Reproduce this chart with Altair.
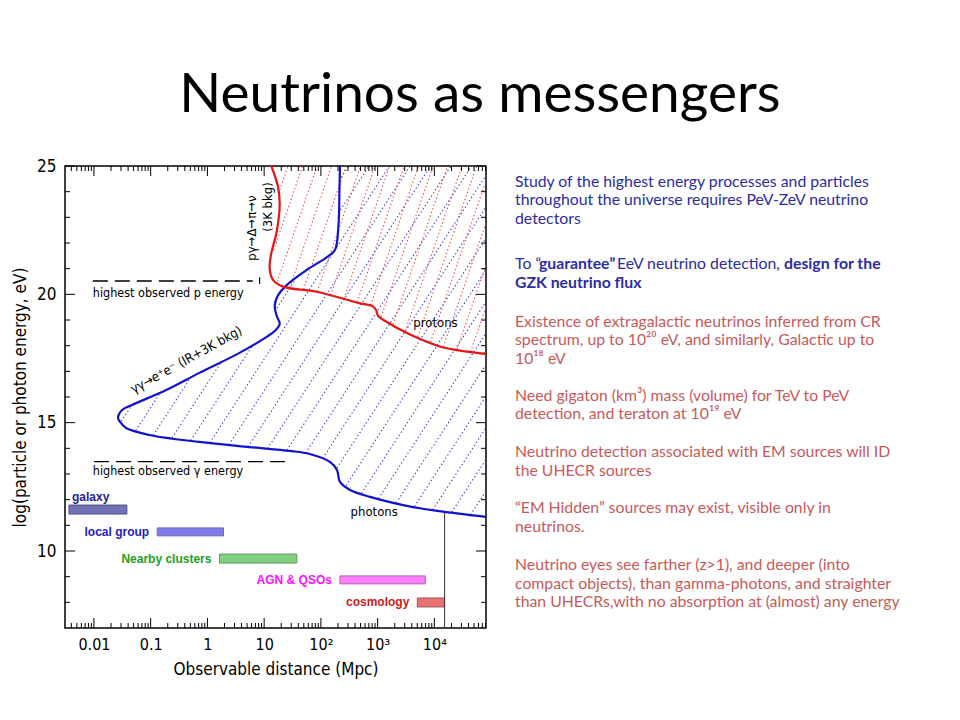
import altair as alt
import numpy as np
import pandas as pd

# ---------------- data ----------------
TITLE = "Neutrinos as messengers"
X_TITLE = "Observable distance (Mpc)"
Y_TITLE = "log(particle or photon energy, eV)"

x_tick_values = [-2, -1, 0, 1, 2, 3, 4]          # log10(distance / Mpc)
x_tick_labels = ["0.01", "0.1", "1", "10", "10²", "10³", "10⁴"]
y_tick_values = [10, 15, 20, 25]
x_domain = [-2.51, 4.91]
y_domain = [7, 25]

# photon horizon (blue curve), log10(Mpc) vs log10(E/eV)
photon_lx = [2.336, 2.327, 2.310, 2.248, 2.106, 1.752, 1.398, 1.239, 1.186, 1.221,
             1.274, 1.186, 1.044, 0.566, -0.142, -0.726, -1.327, -1.504, -1.575, -1.540,
             -1.434, -1.027, -0.142, 0.743, 1.451, 1.805, 2.159, 2.283, 2.336, 2.513,
             2.867, 3.451, 4.053, 4.91]
photon_E = [25.0, 24.07, 22.70, 21.73, 21.45, 20.95, 20.36, 19.94, 19.55, 19.16,
            18.85, 18.57, 18.34, 17.72, 16.94, 16.27, 15.69, 15.49, 15.18, 15.03,
            14.79, 14.52, 14.25, 14.05, 13.90, 13.78, 13.47, 13.16, 12.69, 12.38,
            12.11, 11.79, 11.56, 11.33]

# proton horizon (red curve)
proton_lx = [1.127, 1.244, 1.274, 1.216, 1.127, 1.097, 1.156, 1.333, 1.924, 2.690,
             2.903, 2.973, 3.009, 3.133, 3.517, 4.106, 4.579, 4.91]
proton_E = [25.0, 24.19, 23.48, 22.39, 21.61, 21.03, 20.56, 20.30, 20.10, 19.65,
            19.55, 19.39, 19.16, 18.96, 18.49, 17.96, 17.77, 17.68]

# source distance ranges
src_names = ["galaxy", "local group", "Nearby clusters", "AGN & QSOs", "cosmology"]
src_lx_lo = [-2.44, -0.885, 0.212, 2.336, 3.70]
src_lx_hi = [-1.42, 0.283, 1.575, 3.84, 4.18]
src_E_lo = [11.44, 10.59, 9.53, 8.72, 7.82]
src_E_hi = [11.79, 10.90, 9.88, 9.03, 8.17]

horizon_lx = [4.18]
horizon_E = [7.0, 11.48]

p_max_E = [20.52]
p_max_lx = [-2.02, 0.80]
p_end_lx = [0.92]
p_end_E = [20.40, 20.67]
g_max_E = [13.48]
g_max_lx = [-2.0, 1.40]

annot_text = ["photons", "protons", "γγ→e⁺e⁻ (IR+3K bkg)", "pγ→Δ→π→ν", "(3K bkg)"]
annot_lx = [2.94, 4.02, -0.37, 0.78, 1.06]
annot_E = [11.52, 18.88, 17.44, 22.58, 23.40]
annot_angle = [0, 0, 331, 270, 270]

level_text = ["highest observed p energy", "highest observed γ energy"]
level_lx = [-2.02, -2.02]
level_E = [19.90, 12.96]

para_blue_1 = ["Study of the highest energy processes and particles",
               "throughout the universe requires PeV-ZeV neutrino",
               "detectors"]
para_blue_2_runs = [("To “", False), ("guarantee”", True),
                    ("EeV neutrino detection,", False), ("design for the", True)]
para_blue_2_line2 = "GZK neutrino flux"
para_red = [
    ["Existence of extragalactic neutrinos inferred from CR",
     "spectrum, up to 10²⁰ eV, and similarly, Galactic up to",
     "10¹⁸ eV"],
    ["Need gigaton (km³) mass (volume) for TeV to PeV",
     "detection, and teraton at 10¹⁹ eV"],
    ["Neutrino detection associated with EM sources will ID",
     "the UHECR sources"],
    ["“EM Hidden” sources may exist, visible only in",
     "neutrinos."],
    ["Neutrino eyes see farther (z>1), and deeper (into",
     "compact objects), than gamma-photons, and straighter",
     "than UHECRs,with no absorption at (almost) any energy"],
]

# ---------------- style ----------------
W, H = 421, 462
sx = W / (x_domain[1] - x_domain[0])
sy = H / (y_domain[1] - y_domain[0])
AXF = "DejaVu Sans Condensed, DejaVu Sans"
SLF = "Lato"
LBF = "Liberation Sans Narrow, Liberation Sans"
BLUE = "#1212cc"
RED = "#e61414"
TXT_BLUE = "#2c2ca4"
TXT_RED = "#c65a5a"
src_fill = ["#7272b6", "#7d7df0", "#80d080", "#ff80ff", "#e87272"]
src_edge = ["#505088", "#6a6aa8", "#5f9a5f", "#b060b0", "#a05a5a"]
src_text = ["#1c1c9c", "#1c1cc0", "#22a022", "#ff10ff", "#d01818"]

xs = alt.Scale(domain=x_domain, nice=False, zero=False)
ys = alt.Scale(domain=y_domain, nice=False, zero=False)

label_expr = " : ".join(f"datum.value == {v} ? '{l}'" for v, l in zip(x_tick_values, x_tick_labels)) + " : ''"
x_axis = alt.Axis(values=x_tick_values, labelExpr=label_expr, ticks=False, tickSize=0, domain=False,
                  grid=False, labelFont=AXF, labelFontSize=16, labelColor="black", labelPadding=8,
                  labelFlush=False, title=X_TITLE, titleFont=AXF, titleFontSize=17,
                  titleFontWeight="normal", titleColor="black", titlePadding=9)
y_axis = alt.Axis(values=y_tick_values, ticks=False, tickSize=0, domain=False, grid=False,
                  labelFont=AXF, labelFontSize=17, labelColor="black", labelPadding=9,
                  labelFlush=False, title=Y_TITLE, titleFont=AXF, titleFontSize=17,
                  titleFontWeight="normal", titleColor="black", titlePadding=7)


def ex(field="lx"):
    return alt.X(f"{field}:Q", scale=xs, axis=x_axis, title=X_TITLE)


def ey(field="E"):
    return alt.Y(f"{field}:Q", scale=ys, axis=y_axis, title=Y_TITLE)


# ---------------- curves ----------------
photon_df = pd.DataFrame({"lx": photon_lx, "E": photon_E, "i": range(len(photon_lx))})
proton_df = pd.DataFrame({"lx": proton_lx, "E": proton_E, "i": range(len(proton_lx))})


def hatch_segments(curve_lx, curve_E, angle_deg, spacing, phase):
    cx = np.asarray(curve_lx, float)[::-1]
    cy = np.asarray(curve_E, float)[::-1]
    step = 0.25
    P = np.arange(0.0, H + step / 2, step)
    E = y_domain[0] + P / sy
    bound = np.full_like(P, np.inf)
    ok = (E >= cy.min()) & (E <= cy.max() + 1e-9)
    bound[ok] = (np.interp(E[ok], cy, cx) - x_domain[0]) * sx
    cot = 1.0 / np.tan(np.radians(angle_deg))
    rows, seg = [], 0
    k0 = int(np.floor((-H * cot - phase) / spacing)) - 1
    k1 = int(np.ceil((W - phase) / spacing)) + 1
    for k in range(k0, k1 + 1):
        X = phase + k * spacing + P * cot
        inside = (X >= 0) & (X <= W) & (X > bound + 1.5)
        d = np.diff(np.concatenate([[0], inside.astype(int), [0]]))
        starts = np.flatnonzero(d == 1)
        ends = np.flatnonzero(d == -1) - 1
        for a, b in zip(starts, ends):
            if b - a < 6:
                continue
            for j, idx in enumerate((a, b)):
                rows.append({"seg": seg, "i": j, "lx": x_domain[0] + X[idx] / sx, "E": E[idx]})
            seg += 1
    return pd.DataFrame(rows)


hb = hatch_segments(photon_lx, photon_E, 57, 20.5, 4.0)
hr = hatch_segments(proton_lx, proton_E, 71, 14.5, 6.0)

hatch_blue = alt.Chart(hb).mark_line(strokeDash=[1.4, 2.4], strokeWidth=1.1, color="#3c3cd8").encode(
    x=ex(), y=ey(), detail="seg:N", order="i:Q")
hatch_red = alt.Chart(hr).mark_line(strokeDash=[1.4, 2.4], strokeWidth=1.1, color="#e84848").encode(
    x=ex(), y=ey(), detail="seg:N", order="i:Q")

photon_line = alt.Chart(photon_df).mark_line(color=BLUE, strokeWidth=2.2, interpolate="catmull-rom").encode(
    x=ex(), y=ey(), order="i:Q")
proton_line = alt.Chart(proton_df).mark_line(color=RED, strokeWidth=2.2, interpolate="catmull-rom").encode(
    x=ex(), y=ey(), order="i:Q")

# ---------------- sources ----------------
src_df = pd.DataFrame({"name": src_names, "lx": src_lx_lo, "lx2": src_lx_hi, "E": src_E_lo,
                       "E2": src_E_hi, "fill": src_fill, "edge": src_edge, "tcol": src_text})
bars = alt.Chart(src_df).mark_rect(strokeWidth=1).encode(
    x=ex(), x2="lx2:Q", y=ey(), y2="E2:Q",
    color=alt.Color("fill:N", scale=None), stroke=alt.Stroke("edge:N", scale=None))
src_labels = alt.Chart(src_df.iloc[1:]).transform_calculate(Em="(datum.E + datum.E2) / 2").mark_text(
    align="right", baseline="middle", dx=-8, font=LBF, fontSize=12, fontWeight="bold").encode(
    x=ex(), y=ey("Em"), text="name:N", color=alt.Color("tcol:N", scale=None))
gal_label = alt.Chart(src_df.iloc[:1]).mark_text(
    align="left", baseline="alphabetic", dx=3, dy=-4, font=LBF, fontSize=12, fontWeight="bold").encode(
    x=ex(), y=ey("E2"), text="name:N", color=alt.Color("tcol:N", scale=None))

horizon = alt.Chart(pd.DataFrame({"lx": horizon_lx, "E": [horizon_E[0]], "E2": [horizon_E[1]]})).mark_rule(
    color="#333333", strokeWidth=1).encode(x=ex(), y=ey(), y2="E2:Q")

levels_df = pd.DataFrame({"lx": [p_max_lx[0], g_max_lx[0]], "lx2": [p_max_lx[1], g_max_lx[1]],
                          "E": [p_max_E[0], g_max_E[0]]})
levels = alt.Chart(levels_df).mark_rule(color="black", strokeWidth=1.3, strokeDash=[15, 7]).encode(
    x=ex(), x2="lx2:Q", y=ey())
p_end = alt.Chart(pd.DataFrame({"lx": p_end_lx, "E": [p_end_E[0]], "E2": [p_end_E[1]]})).mark_rule(
    color="black", strokeWidth=1.2).encode(x=ex(), y=ey(), y2="E2:Q")

level_labels = alt.Chart(pd.DataFrame({"t": level_text, "lx": level_lx, "E": level_E})).mark_text(
    align="left", baseline="alphabetic", font=AXF, fontSize=12.5, color="black").encode(
    x=ex(), y=ey(), text="t:N")

annots = alt.Chart(pd.DataFrame({"t": annot_text, "lx": annot_lx, "E": annot_E, "a": annot_angle})).mark_text(
    align="center", baseline="middle", font=AXF, fontSize=13, color="black").encode(
    x=ex(), y=ey(), text="t:N", angle=alt.Angle("a:Q", scale=None))

# ---------------- frame ticks (inward) ----------------
x_minor = [n + np.log10(k) for n in range(-3, 5) for k in range(2, 10)
           if x_domain[0] < n + np.log10(k) < x_domain[1]]
y_minor = [v for v in range(y_domain[0] + 1, y_domain[1]) if v % 5]
rows = []
for vals, L in ((x_tick_values, 10), (x_minor, 5)):
    for v in vals:
        rows.append({"lx": v, "lx2": v, "E": y_domain[0], "E2": y_domain[0] + L / sy})
        rows.append({"lx": v, "lx2": v, "E": y_domain[1], "E2": y_domain[1] - L / sy})
for vals, L in ((y_tick_values, 10), (y_minor, 5)):
    for v in vals:
        rows.append({"lx": x_domain[0], "lx2": x_domain[0] + L / sx, "E": v, "E2": v})
        rows.append({"lx": x_domain[1], "lx2": x_domain[1] - L / sx, "E": v, "E2": v})
ticks = alt.Chart(pd.DataFrame(rows)).mark_rule(color="black", strokeWidth=1).encode(
    x=ex(), x2="lx2:Q", y=ey(), y2="E2:Q")

# ---------------- slide text ----------------
TX = 450          # left edge of text column, relative to plot origin
LINE = 18.7
para_starts = [20.7, 103.0, 160.7, 234.7, 291.0, 347.0, 404.0]
run_x = [450, 474, 552, 719]
reg_rows, bold_rows = [], []
for j, t in enumerate(para_blue_1):
    reg_rows.append({"t": t, "px": TX, "py": para_starts[0] + j * LINE, "c": TXT_BLUE})
for (t, b), x in zip(para_blue_2_runs, run_x):
    (bold_rows if b else reg_rows).append({"t": t, "px": x, "py": para_starts[1], "c": TXT_BLUE})
bold_rows.append({"t": para_blue_2_line2, "px": TX, "py": para_starts[1] + LINE, "c": TXT_BLUE})
for p, lines in enumerate(para_red):
    for j, t in enumerate(lines):
        reg_rows.append({"t": t, "px": TX, "py": para_starts[p + 2] + j * LINE, "c": TXT_RED})


def slide_text(rows_, weight):
    return alt.Chart(pd.DataFrame(rows_)).mark_text(
        align="left", baseline="alphabetic", font=SLF, fontSize=15.8, fontWeight=weight).encode(
        x=alt.X("px:Q", scale=None, axis=None), y=alt.Y("py:Q", scale=None, axis=None),
        text="t:N", color=alt.Color("c:N", scale=None))


text_reg = slide_text(reg_rows, "normal")
text_bold = slide_text(bold_rows, "bold")

title = alt.Chart(pd.DataFrame({"t": [TITLE]})).mark_text(
    align="center", baseline="alphabetic", font=SLF, fontSize=55, color="black").encode(
    x=alt.value(415), y=alt.value(-54), text="t:N")

chart = alt.layer(
    hatch_blue, hatch_red, bars, horizon, levels, p_end, photon_line, proton_line,
    src_labels, gal_label, level_labels, annots, ticks, text_reg, text_bold, title
).properties(
    width=W, height=H,
    autosize=alt.AutoSizeParams(type="none"),
    padding={"left": 57, "top": 158, "right": 462, "bottom": 80},
    background="white",
).configure_view(stroke="black", strokeWidth=1.5)

chart.save("out.html", embed_options={"renderer": "svg", "actions": False})
